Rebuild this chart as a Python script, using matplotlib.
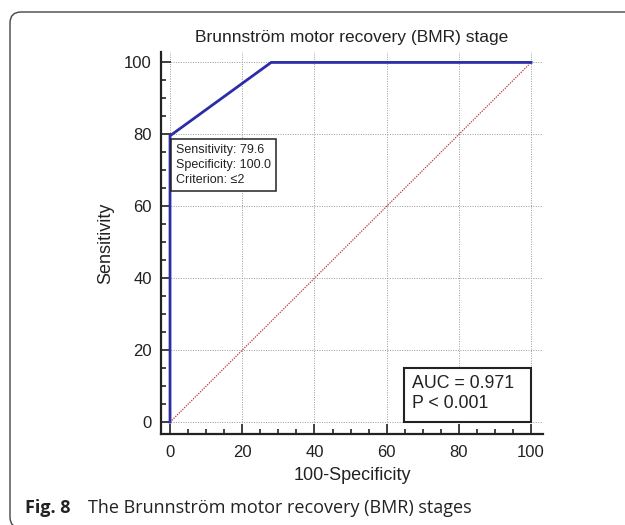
#!/usr/bin/env python3

# ROC curve for the Brunnstrom motor recovery (BMR) stage.

import matplotlib
matplotlib.use("Agg")
from matplotlib import pyplot as plt
from matplotlib.patches import FancyBboxPatch, Rectangle
from matplotlib.ticker import MultipleLocator

# ROC points (100-Specificity, Sensitivity)
fpr = [0, 0, 28, 100]
tpr = [0, 79.6, 100, 100]

ref_x = [0, 100]
ref_y = [0, 100]

cut_sens = 79.6
cut_spec = 100.0
cut_crit = "\u22642"

auc = 0.971
pval = "P < 0.001"

title = "Brunnstr\u00f6m motor recovery (BMR) stage"
caption_bold = "Fig. 8"
caption = "The Brunnstr\u00f6m motor recovery (BMR) stages"

plt.rcParams["font.family"] = ["Liberation Sans", "DejaVu Sans"]

W, H = 625, 525
fig = plt.figure(figsize=(W / 100, H / 100), dpi=100)

# rounded frame around the figure (inches)
frame = FancyBboxPatch((0.10, -0.03), 6.6, 5.13 + 0.03,
                       boxstyle="round,pad=0,rounding_size=0.11",
                       transform=fig.dpi_scale_trans, fc="none", ec="#444444",
                       lw=1.0, clip_on=False)
fig.patches.append(frame)

ax = fig.add_axes([161 / W, (H - 434) / H, (543 - 161) / W, (434 - 52) / H])
ax.set_xlim(-2.5, 103.3)
ax.set_ylim(-3.3, 102.9)

ax.xaxis.set_major_locator(MultipleLocator(20))
ax.xaxis.set_minor_locator(MultipleLocator(5))
ax.yaxis.set_major_locator(MultipleLocator(20))
ax.yaxis.set_minor_locator(MultipleLocator(5))
ax.set_xticks(range(0, 101, 20))
ax.set_yticks(range(0, 101, 20))

ax.tick_params(which="both", direction="in", width=1.2, colors="#222222", labelsize=12)
ax.tick_params(axis="x", which="major", length=7, pad=8)
ax.tick_params(axis="y", which="major", length=7, pad=6.5)
ax.tick_params(which="minor", length=3.5)

for s in ("top", "right"):
    ax.spines[s].set_visible(False)
for s in ("left", "bottom"):
    ax.spines[s].set_linewidth(1.6)
    ax.spines[s].set_color("#222222")

ax.grid(True, which="major", linestyle=(0, (1, 1.5)), color="#999999", linewidth=0.7)
ax.set_axisbelow(True)

ax.plot(ref_x, ref_y, color="#b83838", linestyle=(0, (1, 1)), linewidth=0.9)
ax.plot(fpr, tpr, color="#2a2ca8", linewidth=2.0, solid_joinstyle="miter")

# cut-off callout
ax.text(1.7, 77.3,
        f"Sensitivity: {cut_sens:.1f}\nSpecificity: {cut_spec:.1f}\nCriterion: {cut_crit}",
        fontsize=9, va="top", ha="left", linespacing=1.33, color="#222222",
        bbox=dict(boxstyle="square,pad=0.38", fc="white", ec="#222222", lw=1.1))

# AUC box
ax.add_patch(Rectangle((64.8, 0), 100 - 64.8, 15, fc="white", ec="#222222", lw=1.5, zorder=3))
ax.text(67, 7.9, f"AUC = {auc:.3f}\n{pval}",
        fontsize=12.75, va="center", ha="left", linespacing=1.24, color="#222222", zorder=4)

fig.text(352 / W, 1 - 42 / H, title, fontsize=12.5, ha="center", va="baseline",
         color="#222222")
ax.set_xlabel("100-Specificity", fontsize=13, labelpad=5, color="#222222")
ax.set_ylabel("Sensitivity", fontsize=13, labelpad=7.5, color="#222222")

fig.text(25 / W, 12 / H, caption_bold, fontsize=13, fontweight="bold",
         family="Open Sans", va="baseline", ha="left", color="#222222")
fig.text(88 / W, 12 / H, caption, fontsize=13,
         family="Open Sans", va="baseline", ha="left", color="#222222")

plt.savefig("out.png", dpi=100)
plt.close()
